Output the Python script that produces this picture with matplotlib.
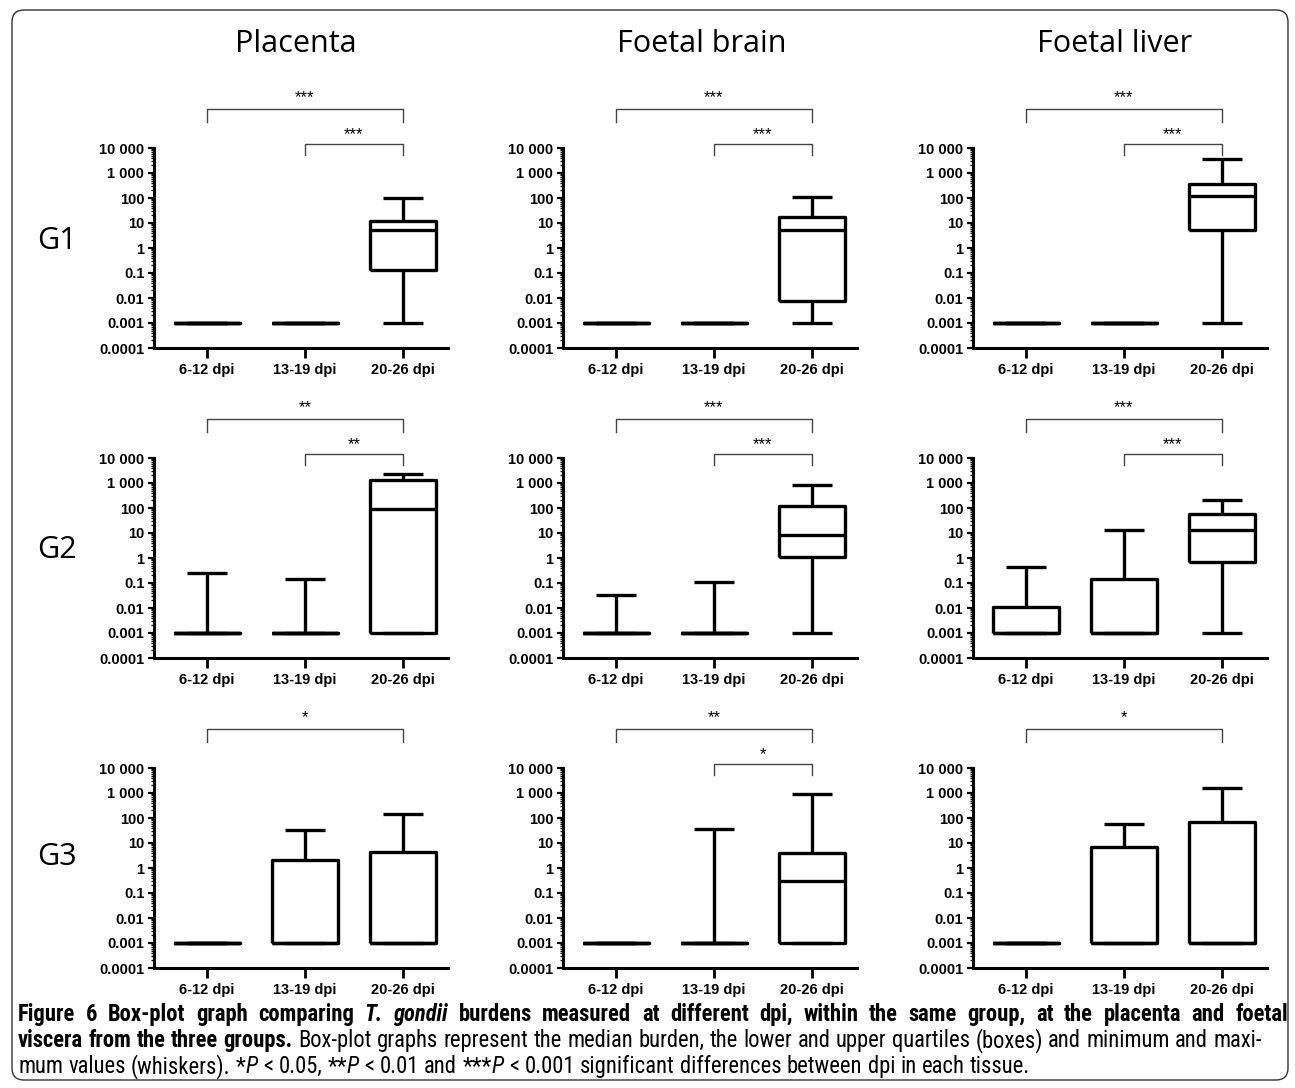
import re
import numpy as np
import matplotlib
matplotlib.use('Agg')
import matplotlib.pyplot as plt
import matplotlib.transforms as mtransforms
from matplotlib import font_manager
from matplotlib.patches import FancyBboxPatch
from matplotlib.ticker import FixedLocator, FixedFormatter, LogLocator, NullFormatter

tissues = ['Placenta', 'Foetal brain', 'Foetal liver']
groups = ['G1', 'G2', 'G3']
dpi_labels = ['6-12 dpi', '13-19 dpi', '20-26 dpi']
y_ticks = [1e-4, 1e-3, 1e-2, 1e-1, 1, 10, 100, 1000, 10000]
y_tick_labels = ['0.0001', '0.001', '0.01', '0.1', '1', '10', '100', '1 000', '10 000']

# [group][tissue] -> values for the three dpi windows
whis_low = [[[0.001, 0.001, 0.001]] * 3] * 3
q1 = [
    [[0.001, 0.001, 0.136], [0.001, 0.001, 0.0078], [0.001, 0.001, 5.1]],
    [[0.001, 0.001, 0.001], [0.001, 0.001, 1.1], [0.001, 0.001, 0.69]],
    [[0.001, 0.001, 0.001], [0.001, 0.001, 0.001], [0.001, 0.001, 0.001]],
]
median = [
    [[0.001, 0.001, 5.1], [0.001, 0.001, 5.1], [0.001, 0.001, 117]],
    [[0.001, 0.001, 94], [0.001, 0.001, 8.3], [0.001, 0.001, 13.6]],
    [[0.001, 0.001, 0.001], [0.001, 0.001, 0.29], [0.001, 0.001, 0.001]],
]
q3 = [
    [[0.001, 0.001, 11.7], [0.001, 0.001, 16.9], [0.001, 0.001, 374]],
    [[0.001, 0.001, 1280], [0.001, 0.001, 117], [0.0113, 0.145, 59]],
    [[0.001, 2.15, 4.2], [0.001, 0.001, 4.0], [0.001, 7.1, 69]],
]
whis_high = [
    [[0.001, 0.001, 100], [0.001, 0.001, 110], [0.001, 0.001, 3630]],
    [[0.25, 0.15, 2360], [0.032, 0.113, 858], [0.45, 13.6, 215]],
    [[0.001, 34, 149], [0.001, 36, 912], [0.001, 57.5, 1580]],
]
# significance: 6-12 vs 20-26 (upper) and 13-19 vs 20-26 (lower)
sig_upper = [['***', '***', '***'], ['**', '***', '***'], ['*', '**', '*']]
sig_lower = [['***', '***', '***'], ['**', '***', '***'], [None, '*', None]]

W, H = 1295, 1088
fig = plt.figure(figsize=(W / 100, H / 100), dpi=100)

# page axes in pixel units (y down) for frame, titles and caption
page = fig.add_axes([0, 0, 1, 1], zorder=-1)
page.set_xlim(0, W)
page.set_ylim(H, 0)
page.axis('off')

names = {f.name for f in font_manager.fontManager.ttflist}


def pick(cands):
    for n in cands:
        if n in names:
            return n
    return 'DejaVu Sans'


title_font = pick(['Open Sans', 'Noto Sans'])
cap_font = pick(['Liberation Sans Narrow', 'Roboto Condensed', 'Open Sans Condensed',
                 'Noto Sans Condensed', 'DejaVu Sans Condensed', 'Lato', 'Roboto', 'Open Sans'])
tick_font = pick(['Liberation Sans', 'Arial'])

page.add_patch(FancyBboxPatch((12, 10), 1276, 1070,
                              boxstyle='round,pad=0,rounding_size=12',
                              fc='none', ec='#333333', lw=1.0))

col_left = [154, 563, 973]
row_bottom = [348, 658, 968]
ax_w, ax_h = 294, 200
title_x = [296, 702, 1115]
row_label_y = [241, 550, 857]

for c, name in enumerate(tissues):
    page.text(title_x[c], 52, name, ha='center', va='baseline',
              fontsize=22, family=title_font)
for r, g in enumerate(groups):
    page.text(57, row_label_y[r], g, ha='center', va='center',
              fontsize=22, family=title_font)

positions = [1, 2, 3]
line_kw = dict(color='black', lw=2.4, solid_capstyle='butt')

for r in range(3):
    for c in range(3):
        ax = fig.add_axes([col_left[c] / W, 1 - row_bottom[r] / H, ax_w / W, ax_h / H])
        stats = []
        for k in range(3):
            stats.append(dict(whislo=whis_low[r][c][k], q1=q1[r][c][k],
                              med=median[r][c][k], q3=q3[r][c][k],
                              whishi=whis_high[r][c][k], fliers=[]))
        ax.bxp(stats, positions=positions, widths=0.68, capwidths=0.41,
               showfliers=False, boxprops=line_kw, whiskerprops=line_kw,
               capprops=line_kw, medianprops=line_kw)
        ax.set_yscale('log')
        ax.set_ylim(1e-4, 1e4)
        ax.set_xlim(0.46, 3.46)
        ax.yaxis.set_major_locator(FixedLocator(y_ticks))
        ax.yaxis.set_major_formatter(FixedFormatter(y_tick_labels))
        ax.yaxis.set_minor_locator(LogLocator(base=10, subs=np.arange(2, 10), numticks=20))
        ax.yaxis.set_minor_formatter(NullFormatter())
        ax.set_xticks(positions)
        ax.set_xticklabels(dpi_labels)
        for s in ['top', 'right']:
            ax.spines[s].set_visible(False)
        for s in ['left', 'bottom']:
            ax.spines[s].set_linewidth(2.2)
        ax.tick_params(axis='y', which='major', length=4, width=1.6, pad=3)
        ax.tick_params(axis='y', which='minor', length=2.5, width=1.0)
        ax.tick_params(axis='x', length=7, width=2.0, pad=4)
        for lab in ax.get_xticklabels() + ax.get_yticklabels():
            lab.set_family(tick_font)
            lab.set_fontweight('bold')
            lab.set_fontsize(10.5)
        ax.patch.set_alpha(0)

        tr = mtransforms.blended_transform_factory(ax.transData, ax.transAxes)
        brackets = [(1, sig_upper[r][c], 1.195, 1.13, 1.25),
                    (2, sig_lower[r][c], 1.02, 0.965, 1.065)]
        for x0, lab, ytop, yleg, ytxt in brackets:
            if lab is None:
                continue
            ax.plot([x0, x0, 3, 3], [yleg, ytop, ytop, yleg], transform=tr,
                    color='#444444', lw=1.0, clip_on=False)
            ax.text((x0 + 3) / 2, ytxt, lab, transform=tr, ha='center',
                    va='center', fontsize=12, family=tick_font)

# caption
renderer = fig.canvas.get_renderer()
line1 = [('Figure 6  Box-plot graph comparing ', 'bold', 'normal'),
         ('T. gondii', 'bold', 'italic'),
         (' burdens measured at different dpi, within the same group, at the placenta and foetal', 'bold', 'normal')]
line2 = [('viscera from the three groups.', 'bold', 'normal'),
         (' Box-plot graphs represent the median burden, the lower and upper quartiles (boxes) and minimum and maxi-', 'normal', 'normal')]
line3 = [('mum values (whiskers). *', 'normal', 'normal'), ('P', 'normal', 'italic'),
         (' < 0.05, **', 'normal', 'normal'), ('P', 'normal', 'italic'),
         (' < 0.01 and ***', 'normal', 'normal'), ('P', 'normal', 'italic'),
         (' < 0.001 significant differences between dpi in each tissue.', 'normal', 'normal')]


def tokens(runs):
    out = []
    space = False
    for txt, w, s in runs:
        for part in re.split(r'( +)', txt):
            if part == '':
                continue
            if part.startswith(' '):
                space = True
                continue
            out.append((part, w, s, space and bool(out)))
            space = False
    return out


def measure(txt, w, s, size):
    t = page.text(0, -100, txt, fontsize=size, fontweight=w, fontstyle=s, family=cap_font)
    width = t.get_window_extent(renderer).width
    t.remove()
    return width


def space_width(size):
    return measure('a a', 'normal', 'normal', size) - measure('aa', 'normal', 'normal', size)


def natural_width(runs, size):
    toks = tokens(runs)
    return (sum(measure(p, w, s, size) for p, w, s, _ in toks)
            + space_width(size) * sum(1 for t in toks if t[3]))


def write_line(x, y, runs, size, target=None):
    toks = tokens(runs)
    widths = [measure(p, w, s, size) for p, w, s, _ in toks]
    n_gaps = sum(1 for t in toks if t[3])
    gap = space_width(size) if target is None else (target - sum(widths)) / n_gaps
    for (p, w, s, g), wd in zip(toks, widths):
        if g:
            x += gap
        page.text(x, y, p, fontsize=size, fontweight=w, fontstyle=s,
                  family=cap_font, ha='left', va='baseline')
        x += wd


size1 = 12 * 1270 / natural_width(line1, 12)
size2 = 12 * 1244 / natural_width(line2, 12)
cap_size = min(size1, size2)
write_line(18, 1021, line1, cap_size, target=1270)
write_line(18, 1047, line2, cap_size, target=1244)
write_line(18, 1073, line3, cap_size)

fig.savefig('out.png', dpi=100)
